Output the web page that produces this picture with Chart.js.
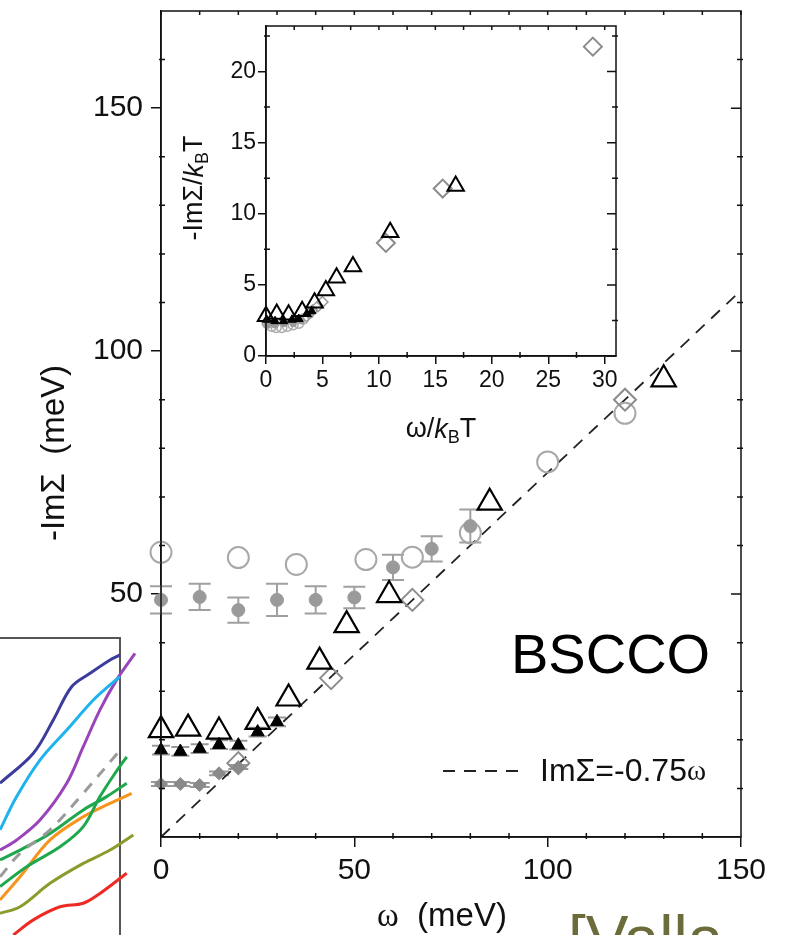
<!DOCTYPE html>
<html>
<head>
<meta charset="utf-8">
<script src="https://cdn.jsdelivr.net/npm/chart.js@4.4.1/dist/chart.umd.min.js"></script>
<style>
html, body { margin: 0; padding: 0; background: #fff; }
#wrap { position: relative; width: 794px; height: 935px; overflow: hidden; }
canvas { position: absolute; }
</style>
</head>
<body>
<div id="wrap">
  <canvas id="side" width="150" height="315" style="left:0;top:620px"></canvas>
  <canvas id="main" width="794" height="935" style="left:0;top:0"></canvas>
  <canvas id="inset" width="480" height="440" style="left:160px;top:15px"></canvas>
</div>
<script>
// ---- main panel data (omega in meV, -Im Sigma in meV)
const openCircX = [0, 20, 35, 53, 65, 80, 100, 120];
const openCircY = [58.6, 57.5, 56.1, 57.1, 57.6, 62.6, 77.2, 87.2];
const dotX = [0, 10, 20, 30, 40, 50, 60, 70, 80];
const dotY = [48.8, 49.4, 46.7, 48.8, 48.8, 49.3, 55.5, 59.3, 64.0];
const dotErr = [2.8, 2.7, 2.6, 3.3, 2.8, 2.2, 2.6, 2.6, 3.4];
const openTriX = [0, 7, 15, 25, 33, 41, 48, 59, 85, 130];
const openTriY = [22.0, 22.3, 21.7, 23.7, 28.5, 36.1, 43.6, 49.8, 68.8, 94.2];
const fillTriX = [0, 5, 10, 15, 20, 25, 30];
const fillTriY = [17.9, 17.6, 18.2, 19.0, 18.9, 21.6, 23.7];
const fillTriErr = [0.9, 0.9, 0.9, 0.9, 0.9, 0.9, 0.9];
const fillDiaX = [0, 5, 10, 15, 20];
const fillDiaY = [10.9, 10.9, 10.7, 13.1, 14.4];
const fillDiaErr = [0.4, 0.4, 0.4, 0.4, 0.4];
const openDiaX = [20, 44, 65, 120];
const openDiaY = [15.2, 32.7, 48.8, 90.0];
const fitX = [0, 150];
const fitY = [0, 112.5];
const mainXTicks = [0, 50, 100, 150];
const mainYTicks = [50, 100, 150];
const mainXMinor = [10, 20, 30, 40, 60, 70, 80, 90, 110, 120, 130, 140];
const mainYMinor = [10, 20, 30, 40, 60, 70, 80, 90, 110, 120, 130, 140, 160];

// ---- inset data (omega/kBT, -Im Sigma/kBT)
const inTriX = [0, 0.95, 2.0, 3.2, 4.3, 5.3, 6.25, 7.7, 11.0, 16.8];
const inTriY = [2.8, 2.95, 2.9, 3.15, 3.75, 4.6, 5.5, 6.3, 8.7, 11.95];
const inFillTriX = [0.05, 0.8, 1.55, 2.3, 2.9, 3.6, 4.05];
const inFillTriY = [2.55, 2.45, 2.45, 2.55, 2.6, 2.95, 3.15];
const inDiaX = [10.62, 15.65, 28.95];
const inDiaY = [7.95, 11.77, 21.75];
const inSmallDiaX = [3.6, 4.1, 4.6, 5.0];
const inSmallDiaY = [2.8, 3.2, 3.5, 3.8];
const inCircX = [0.1, 0.5, 0.9, 1.4, 1.9, 2.4, 2.9, 3.3];
const inCircY = [2.3, 2.1, 2.0, 2.0, 2.1, 2.2, 2.3, 2.6];
const inDotX = [0.1, 0.8, 1.6, 2.4, 3.1, 3.9];
const inDotY = [2.2, 2.2, 2.3, 2.3, 2.5, 2.9];
const inXTicks = [0, 5, 10, 15, 20, 25, 30];
const inYTicks = [0, 5, 10, 15, 20];
const inXMinor = [2.5, 7.5, 12.5, 17.5, 22.5, 27.5];
const inYMinor = [2.5, 7.5, 12.5, 17.5, 22.5];

// ---- cropped neighbour panel (normalised units, bottom-left)
const sideBlueX = [0, 0.278, 0.444, 0.597, 0.75, 0.917, 1.0, 1.139];
const sideBlueY = [0.511, 0.612, 0.724, 0.836, 0.881, 0.926, 0.943, 0.976];
const sideCyanX = [0, 0.139, 0.333, 0.556, 0.778, 0.917, 1.0];
const sideCyanY = [0.354, 0.466, 0.589, 0.690, 0.791, 0.842, 0.870];
const sidePurpleX = [0, 0.139, 0.333, 0.556, 0.694, 0.833, 0.972, 1.125];
const sidePurpleY = [0.286, 0.320, 0.387, 0.511, 0.634, 0.758, 0.859, 0.948];
const sideGrayX = [0, 0.167, 0.417, 0.694, 1.014];
const sideGrayY = [0.196, 0.275, 0.354, 0.477, 0.629];
const sideGreen1X = [0, 0.167, 0.417, 0.694, 0.889, 1.056];
const sideGreen1Y = [0.253, 0.286, 0.342, 0.421, 0.466, 0.511];
const sideGreen2X = [0, 0.222, 0.5, 0.694, 0.833, 0.958, 1.056];
const sideGreen2Y = [0.163, 0.230, 0.297, 0.365, 0.466, 0.544, 0.600];
const sideOrangeX = [0, 0.167, 0.417, 0.694, 0.917, 1.097];
const sideOrangeY = [0.118, 0.196, 0.320, 0.398, 0.443, 0.477];
const sideOliveX = [0, 0.167, 0.417, 0.694, 0.917, 1.111];
const sideOliveY = [0.073, 0.095, 0.174, 0.241, 0.286, 0.337];
const sideRedX = [0.111, 0.278, 0.5, 0.694, 0.833, 1.056];
const sideRedY = [0, 0.051, 0.095, 0.107, 0.140, 0.208];

const FONT = "'Liberation Sans', Arial, Helvetica, sans-serif";
const SERIF = "'Liberation Serif', 'DejaVu Serif', serif";
const CLEAR = 'rgba(0,0,0,0)';

function pts(xs, ys) {
    return xs.map((x, i) => ({ x: x, y: ys[i] }));
}

// text made of runs (for subscripts / mixed fonts)
function drawRuns(ctx, runs, x, y, align) {
    let total = 0;
    runs.forEach(r => { ctx.font = r.font; r.w = ctx.measureText(r.t).width; total += r.w; });
    let cx = align === 'left' ? x : x - total / 2;
    ctx.textAlign = 'left';
    runs.forEach(r => {
        ctx.font = r.font;
        ctx.fillText(r.t, cx, y + (r.dy || 0));
        cx += r.w;
    });
}

// frame box, inward ticks on right/top and the minor ticks
const frameTicks = {
    id: 'frameTicks',
    afterDatasetsDraw(chart, args, opts) {
        const { ctx, chartArea: a, scales } = chart;
        const xs = scales.x, ys = scales.y;
        ctx.save();
        ctx.strokeStyle = '#111';
        ctx.lineWidth = opts.width;
        ctx.strokeRect(a.left, a.top, a.right - a.left, a.bottom - a.top);
        ctx.beginPath();
        opts.yMajor.forEach(v => {
            const p = ys.getPixelForValue(v);
            ctx.moveTo(a.right, p); ctx.lineTo(a.right - opts.majorLen, p);
        });
        opts.xMajor.forEach(v => {
            const p = xs.getPixelForValue(v);
            ctx.moveTo(p, a.top); ctx.lineTo(p, a.top + opts.minorLen);
        });
        opts.xMinor.forEach(v => {
            const p = xs.getPixelForValue(v);
            ctx.moveTo(p, a.top); ctx.lineTo(p, a.top + opts.minorLen);
            ctx.moveTo(p, a.bottom + 2); ctx.lineTo(p, a.bottom - opts.minorLen);
        });
        opts.yMinor.forEach(v => {
            const p = ys.getPixelForValue(v);
            ctx.moveTo(a.left - 2, p); ctx.lineTo(a.left + opts.minorLen, p);
            ctx.moveTo(a.right + 2, p); ctx.lineTo(a.right - opts.minorLen, p);
        });
        ctx.stroke();
        ctx.restore();
    }
};

// vertical error bars with caps, drawn under the markers
const errorBars = {
    id: 'errorBars',
    beforeDatasetsDraw(chart) {
        const ctx = chart.ctx;
        const ys = chart.scales.y;
        chart.data.datasets.forEach((ds, i) => {
            if (!ds.yErr) return;
            const meta = chart.getDatasetMeta(i);
            ctx.save();
            ctx.strokeStyle = ds.errColor;
            ctx.lineWidth = 2;
            ctx.beginPath();
            ds.data.forEach((d, j) => {
                const x = meta.data[j].x;
                const t = ys.getPixelForValue(d.y + ds.yErr[j]);
                const b = ys.getPixelForValue(d.y - ds.yErr[j]);
                ctx.moveTo(x, t); ctx.lineTo(x, b);
                ctx.moveTo(x - ds.capHalf, t); ctx.lineTo(x + ds.capHalf, t);
                ctx.moveTo(x - ds.capHalf, b); ctx.lineTo(x + ds.capHalf, b);
            });
            ctx.stroke();
            ctx.restore();
        });
    }
};

const mainText = {
    id: 'mainText',
    afterDraw(chart) {
        const ctx = chart.ctx;
        ctx.save();
        ctx.fillStyle = '#111';
        ctx.textBaseline = 'middle';
        drawRuns(ctx, [{ t: 'ω', font: `33px ${SERIF}` }, { t: '  (meV)', font: `33px ${FONT}` }], 442, 917);
        ctx.save();
        ctx.translate(55, 453);
        ctx.rotate(-Math.PI / 2);
        drawRuns(ctx, [{ t: '-ImΣ  (meV)', font: `33px ${FONT}` }], 0, 0);
        ctx.restore();

        // legend for the dashed line
        ctx.strokeStyle = '#222';
        ctx.lineWidth = 1.8;
        ctx.setLineDash([12, 9]);
        ctx.beginPath();
        ctx.moveTo(443, 771); ctx.lineTo(521, 771);
        ctx.stroke();
        ctx.setLineDash([]);
        drawRuns(ctx, [{ t: 'ImΣ=-0.75', font: `32px ${FONT}` }, { t: 'ω', font: `29px ${SERIF}` }], 540, 772, 'left');

        ctx.textBaseline = 'alphabetic';
        ctx.textAlign = 'left';
        ctx.fillStyle = '#000';
        ctx.font = `56px ${FONT}`;
        ctx.fillText('BSCCO', 511, 673);

        ctx.fillStyle = '#6b6c3a';
        ctx.font = `64px ${FONT}`;
        ctx.fillText('[Valla', 568, 961);
        ctx.restore();
    }
};

const insetText = {
    id: 'insetText',
    afterDraw(chart) {
        const ctx = chart.ctx;
        ctx.save();
        ctx.fillStyle = '#111';
        ctx.textBaseline = 'middle';
        drawRuns(ctx, [
            { t: 'ω/', font: `27px ${FONT}` },
            { t: 'k', font: `italic 27px ${FONT}` },
            { t: 'B', font: `18px ${FONT}`, dy: 8 },
            { t: 'T', font: `27px ${FONT}` }
        ], 281, 415);
        ctx.translate(35, 173);
        ctx.rotate(-Math.PI / 2);
        drawRuns(ctx, [
            { t: '-ImΣ/', font: `27px ${FONT}` },
            { t: 'k', font: `italic 27px ${FONT}` },
            { t: 'B', font: `18px ${FONT}`, dy: 8 },
            { t: 'T', font: `27px ${FONT}` }
        ], 0, 0);
        ctx.restore();
    }
};

const sideFrame = {
    id: 'sideFrame',
    beforeDatasetsDraw(chart) {
        const { ctx, chartArea: a } = chart;
        ctx.save();
        ctx.strokeStyle = '#555';
        ctx.lineWidth = 2;
        ctx.beginPath();
        ctx.moveTo(a.left, a.top); ctx.lineTo(a.right, a.top); ctx.lineTo(a.right, a.bottom + 5);
        ctx.stroke();
        ctx.restore();
    }
};

function axisOpts(min, max, ticks, size, fontSize, tickLen, pad) {
    return {
        type: 'linear', min: min, max: max,
        afterBuildTicks: s => { s.ticks = ticks.map(v => ({ value: v })); },
        afterFit: s => {
            if (s.isHorizontal()) s.height = size; else s.width = size;
            s.paddingTop = 0; s.paddingBottom = 0; s.paddingLeft = 0; s.paddingRight = 0;
        },
        grid: { display: true, drawOnChartArea: false, drawTicks: true, tickLength: tickLen, color: '#111', lineWidth: 1.5 },
        border: { display: true, color: '#111', width: 1.5 },
        ticks: { color: '#111', font: { family: FONT, size: fontSize }, padding: pad, maxRotation: 0, autoSkip: false }
    };
}

new Chart(document.getElementById('main'), {
    type: 'scatter',
    data: {
        datasets: [
            { data: pts(openTriX, openTriY), pointStyle: 'triangle', pointRadius: 14, borderColor: '#000', borderWidth: 2.2, backgroundColor: CLEAR },
            { data: pts(fillTriX, fillTriY), pointStyle: 'triangle', pointRadius: 7.5, borderColor: '#000', borderWidth: 1, backgroundColor: '#000',
              yErr: fillTriErr, errColor: '#9a9a9a', capHalf: 9 },
            { data: pts(fillDiaX, fillDiaY), pointStyle: 'rectRot', pointRadius: 6.5, borderColor: '#8a8a8a', borderWidth: 1, backgroundColor: '#8a8a8a',
              yErr: fillDiaErr, errColor: '#9a9a9a', capHalf: 10 },
            { data: pts(openDiaX, openDiaY), pointStyle: 'rectRot', pointRadius: 11, borderColor: '#8c8c8c', borderWidth: 2, backgroundColor: CLEAR },
            { data: pts(dotX, dotY), pointStyle: 'circle', pointRadius: 6.5, borderColor: '#9a9a9a', borderWidth: 1, backgroundColor: '#9a9a9a',
              yErr: dotErr, errColor: '#a0a0a0', capHalf: 11 },
            { data: pts(openCircX, openCircY), pointStyle: 'circle', pointRadius: 10.5, borderColor: '#a8a8a8', borderWidth: 2, backgroundColor: CLEAR },
            { type: 'line', data: pts(fitX, fitY), borderColor: '#222', borderWidth: 1.8, borderDash: [12, 9], pointRadius: 0, fill: false }
        ]
    },
    options: {
        responsive: false,
        animation: false,
        events: [],
        clip: false,
        datasets: { scatter: { clip: false }, line: { clip: false } },
        layout: { autoPadding: false, padding: { left: 0, top: 11, right: 53, bottom: 0 } },
        plugins: {
            legend: { display: false },
            tooltip: { enabled: false },
            frameTicks: { width: 1.5, majorLen: 10, minorLen: 4, xMajor: mainXTicks, yMajor: mainYTicks, xMinor: mainXMinor, yMinor: mainYMinor }
        },
        scales: {
            x: axisOpts(0, 150, mainXTicks, 98, 30, 10, 6),
            y: axisOpts(0, 170, mainYTicks, 161, 30, 10, 8)
        }
    },
    plugins: [errorBars, frameTicks, mainText]
});

new Chart(document.getElementById('inset'), {
    type: 'scatter',
    data: {
        datasets: [
            { data: pts(inFillTriX, inFillTriY), pointStyle: 'triangle', pointRadius: 5, borderColor: '#000', borderWidth: 1, backgroundColor: '#000' },
            { data: pts(inTriX, inTriY), pointStyle: 'triangle', pointRadius: 9.5, borderColor: '#000', borderWidth: 2, backgroundColor: CLEAR },
            { data: pts(inDiaX, inDiaY), pointStyle: 'rectRot', pointRadius: 9, borderColor: '#8c8c8c', borderWidth: 2, backgroundColor: CLEAR },
            { data: pts(inSmallDiaX, inSmallDiaY), pointStyle: 'rectRot', pointRadius: 5.5, borderColor: '#9a9a9a', borderWidth: 1.5, backgroundColor: CLEAR },
            { data: pts(inDotX, inDotY), pointStyle: 'circle', pointRadius: 3.5, borderColor: '#999', borderWidth: 1, backgroundColor: '#999' },
            { data: pts(inCircX, inCircY), pointStyle: 'circle', pointRadius: 5, borderColor: '#aaa', borderWidth: 1.5, backgroundColor: CLEAR }
        ]
    },
    options: {
        responsive: false,
        animation: false,
        events: [],
        clip: false,
        datasets: { scatter: { clip: false } },
        layout: { autoPadding: false, padding: { left: 0, top: 11, right: 24, bottom: 0 } },
        plugins: {
            legend: { display: false },
            tooltip: { enabled: false },
            frameTicks: { width: 1.5, majorLen: 9, minorLen: 4, xMajor: inXTicks, yMajor: inYTicks, xMinor: inXMinor, yMinor: inYMinor }
        },
        scales: {
            x: axisOpts(0, 31, inXTicks, 99, 23, 8, 3),
            y: axisOpts(0, 23.2, inYTicks, 106, 23, 8, 2)
        }
    },
    plugins: [frameTicks, insetText]
});

function sideLine(xs, ys, color, dash) {
    return { data: pts(xs, ys), borderColor: color, borderWidth: 3, borderDash: dash || [], pointRadius: 0, tension: 0.35, clip: false, fill: false };
}

new Chart(document.getElementById('side'), {
    type: 'line',
    data: {
        datasets: [
            sideLine(sideBlueX, sideBlueY, '#3c3c9c'),
            sideLine(sideCyanX, sideCyanY, '#1db4ee'),
            sideLine(sidePurpleX, sidePurpleY, '#9a44ba'),
            sideLine(sideGrayX, sideGrayY, '#9a9a9a', [11, 9]),
            sideLine(sideGreen1X, sideGreen1Y, '#1ea84c'),
            sideLine(sideGreen2X, sideGreen2Y, '#1ea84c'),
            sideLine(sideOrangeX, sideOrangeY, '#f7941d'),
            sideLine(sideOliveX, sideOliveY, '#8c9b2c'),
            sideLine(sideRedX, sideRedY, '#ee2a24')
        ]
    },
    options: {
        responsive: false,
        animation: false,
        events: [],
        layout: { autoPadding: false, padding: { left: 0, top: 18, right: 30, bottom: 0 } },
        plugins: { legend: { display: false }, tooltip: { enabled: false } },
        scales: {
            x: { type: 'linear', min: 0, max: 1, display: false },
            y: { type: 'linear', min: 0, max: 1, display: false }
        }
    },
    plugins: [sideFrame]
});
</script>
</body>
</html>
